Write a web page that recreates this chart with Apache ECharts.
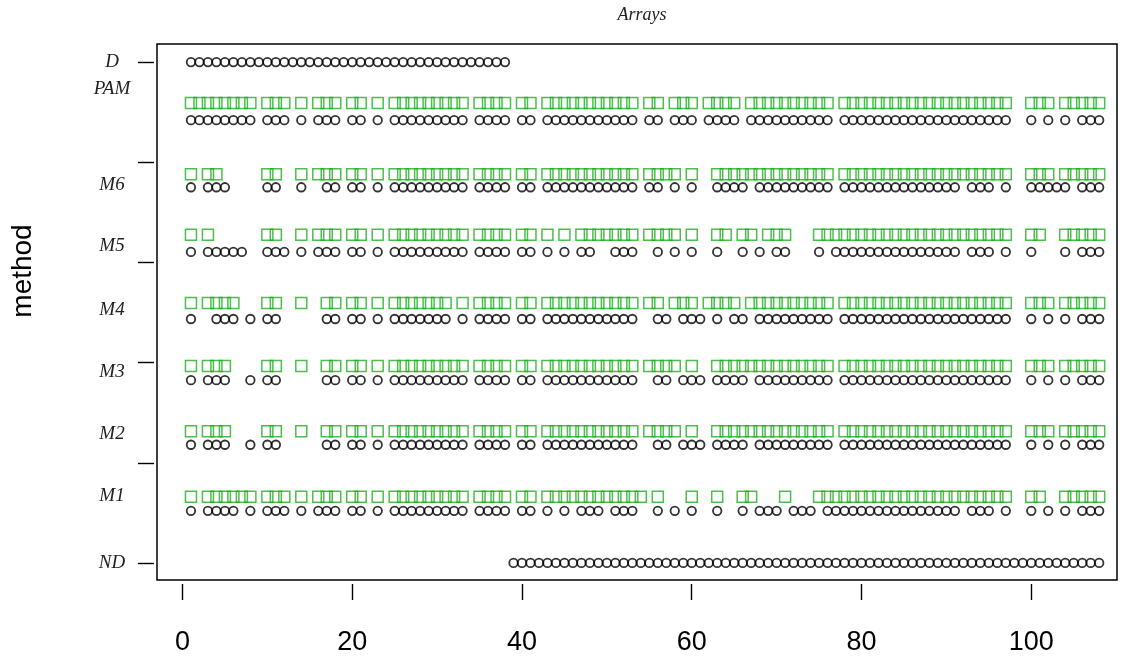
<!DOCTYPE html>
<html>
<head>
<meta charset="utf-8">
<title>Arrays</title>
<script src="https://cdn.jsdelivr.net/npm/echarts@6.0.0/dist/echarts.min.js"></script>
<style>
  html, body { margin: 0; background: #fff; }
  #chart { width: 1132px; height: 668px; }
</style>
</head>
<body>
<div id="chart"></div>
<script>
  // array numbers where a mark is drawn, written as runs [from, to]
  var dCircles = [[1, 38]];
  var ndCircles = [[39, 108]];

  var pamCircles = [[1, 8], [10, 12], [14], [16, 18], [20, 21], [23], [25, 33], [35, 38], [40, 41], [43, 53], [55, 56], [58, 60], [62, 65], [67, 76], [78, 97], [100], [102], [104], [106, 108]];
  var pamSquares = [[1, 8], [10, 12], [14], [16, 18], [20, 21], [23], [25, 33], [35, 38], [40, 41], [43, 53], [55, 56], [58, 60], [62, 65], [67, 76], [78, 97], [100, 102], [104, 108]];

  var m6Circles = [[1], [3, 5], [10, 11], [14], [17, 18], [20, 21], [23], [25, 33], [35, 38], [40, 41], [43, 53], [55, 56], [58], [60], [63, 66], [68, 76], [78, 91], [93, 95], [97], [100, 104], [106, 108]];
  var m6Squares = [[1], [3, 4], [10, 11], [14], [16, 18], [20, 21], [23], [25, 33], [35, 38], [40, 41], [43, 53], [55, 58], [60], [63, 76], [78, 97], [100, 102], [104, 108]];

  var m5Circles = [[1], [3, 7], [10, 12], [14], [16, 18], [20, 21], [23], [25, 33], [35, 38], [40, 41], [43], [45], [47, 48], [51, 53], [56], [58], [60], [63], [66], [68], [70, 71], [75], [77, 91], [93, 95], [97], [100], [104], [106, 108]];
  var m5Squares = [[1], [3], [10, 11], [14], [16, 18], [20, 21], [23], [25, 33], [35, 38], [40, 41], [43], [45], [47, 53], [55, 58], [60], [63, 64], [66, 67], [69, 71], [75, 97], [100, 101], [104, 108]];

  var m4Circles = [[1], [4, 6], [8], [10, 11], [17, 18], [20, 21], [23], [25, 31], [33], [35, 38], [40, 41], [43, 53], [56, 57], [59, 61], [63], [65, 66], [68, 76], [78, 97], [100], [102], [104], [106, 108]];
  var m4Squares = [[1], [3, 6], [10, 11], [14], [17, 18], [20, 21], [23], [25, 31], [33], [35, 38], [40, 41], [43, 53], [55, 56], [58, 60], [62, 65], [67, 76], [78, 97], [100, 102], [104, 108]];

  var m3Circles = [[1], [3, 5], [8], [10, 11], [17, 18], [20, 21], [23], [25, 33], [35, 38], [40, 41], [43, 53], [56, 57], [59, 61], [63, 66], [68, 76], [78, 97], [100], [102], [104], [106, 108]];
  var m3Squares = [[1], [3, 5], [10, 11], [14], [17, 18], [20, 21], [23], [25, 33], [35, 38], [40, 41], [43, 53], [55, 58], [60], [63, 76], [78, 97], [100, 102], [104, 108]];

  var m2Circles = [[1], [3, 5], [8], [10, 11], [17, 18], [20, 21], [23], [25, 33], [35, 38], [40, 41], [43, 53], [56, 57], [59, 61], [63, 66], [68, 76], [78, 97], [100], [102], [104], [106, 108]];
  var m2Squares = [[1], [3, 5], [10, 11], [14], [17, 18], [20, 21], [23], [25, 33], [35, 38], [40, 41], [43, 53], [55, 58], [60], [63, 76], [78, 97], [100, 102], [104, 108]];

  var m1Circles = [[1], [3, 6], [8], [10, 12], [14], [16, 18], [20, 21], [23], [25, 33], [35, 38], [40, 41], [43], [45], [47, 49], [51, 53], [56], [58], [60], [63], [66], [68, 70], [72, 74], [76, 91], [93, 95], [97], [100], [102], [104], [106, 108]];
  var m1Squares = [[1], [3, 8], [10, 12], [14], [16, 18], [20, 21], [23], [25, 33], [35, 38], [40, 41], [43, 54], [56], [60], [63], [66, 67], [71], [75, 97], [100, 101], [104, 108]];

  var xTicks = [0, 20, 40, 60, 80, 100];
  var methodNames = ['D', 'PAM', 'M6', 'M5', 'M4', 'M3', 'M2', 'M1', 'ND'];

  // vertical layout of the rows (ND = 0, D = 10)
  var yTicks = [0, 2, 4, 6, 8, 10];
  var namePos = [10, 9.46, 7.54, 6.33, 5.05, 3.81, 2.57, 1.34, 0];
  var rows = [
    { circles: dCircles, cy: 10 },
    { circles: pamCircles, cy: 8.84, squares: pamSquares, sy: 9.18 },
    { circles: m6Circles, cy: 7.5, squares: m6Squares, sy: 7.76 },
    { circles: m5Circles, cy: 6.21, squares: m5Squares, sy: 6.55 },
    { circles: m4Circles, cy: 4.87, squares: m4Squares, sy: 5.19 },
    { circles: m3Circles, cy: 3.65, squares: m3Squares, sy: 3.93 },
    { circles: m2Circles, cy: 2.36, squares: m2Squares, sy: 2.63 },
    { circles: m1Circles, cy: 1.04, squares: m1Squares, sy: 1.32 },
    { circles: ndCircles, cy: 0 }
  ];

  function expand(runs) {
    var out = [];
    runs.forEach(function (r) {
      var end = r.length > 1 ? r[1] : r[0];
      for (var i = r[0]; i <= end; i++) out.push(i);
    });
    return out;
  }

  function points(runs, y) {
    return expand(runs).map(function (a) { return [a, y]; });
  }

  var series = [];
  rows.forEach(function (row) {
    if (row.squares) {
      series.push({
        type: 'scatter',
        symbol: 'rect',
        symbolSize: 11,
        silent: true,
        itemStyle: { color: 'rgba(0,0,0,0)', borderColor: '#1fae1f', borderWidth: 1.5 },
        data: points(row.squares, row.sy)
      });
    }
    series.push({
      type: 'scatter',
      symbol: 'circle',
      symbolSize: 8.5,
      silent: true,
      itemStyle: { color: 'rgba(0,0,0,0)', borderColor: '#000', borderWidth: 1.8 },
      data: points(row.circles, row.cy)
    });
  });

  var myChart = echarts.init(document.getElementById('chart'), null, { renderer: 'canvas' });
  myChart.setOption({
    animation: false,
    backgroundColor: '#fff',
    title: {
      text: 'Arrays',
      left: 637,
      textAlign: 'center',
      top: 1,
      textStyle: { fontFamily: 'Liberation Serif', fontStyle: 'italic', fontWeight: 'normal', fontSize: 18, color: '#222' }
    },
    grid: {
      left: 157, right: 15, top: 44, bottom: 88,
      show: true, borderColor: '#000', borderWidth: 1.5, backgroundColor: 'rgba(0,0,0,0)'
    },
    xAxis: {
      type: 'value',
      min: -3,
      max: 110.1,
      offset: 4,
      axisLine: { show: false, onZero: false },
      splitLine: { show: false },
      axisTick: { show: true, inside: false, customValues: xTicks, length: 16, lineStyle: { color: '#000', width: 1.4 } },
      axisLabel: {
        customValues: xTicks, margin: 45,
        fontFamily: 'Liberation Sans', fontSize: 27, color: '#000'
      }
    },
    yAxis: {
      type: 'value',
      min: -0.34,
      max: 10.36,
      offset: 3,
      axisLine: { show: false, onZero: false },
      splitLine: { show: false },
      axisTick: { show: true, inside: false, customValues: yTicks, length: 16, lineStyle: { color: '#000', width: 1.4 } },
      axisLabel: {
        customValues: namePos,
        margin: 42,
        align: 'center',
        fontFamily: 'Liberation Serif', fontStyle: 'italic', fontSize: 19, color: '#222',
        formatter: function (v) {
          for (var i = 0; i < namePos.length; i++) {
            if (Math.abs(namePos[i] - v) < 1e-6) return methodNames[i];
          }
          return '';
        }
      }
    },
    graphic: [{
      type: 'text',
      x: 23,
      y: 271,
      rotation: Math.PI / 2,
      style: { text: 'method', fill: '#000', font: '28px "Liberation Sans"', align: 'center', verticalAlign: 'middle' }
    }],
    series: series
  });
</script>
</body>
</html>
